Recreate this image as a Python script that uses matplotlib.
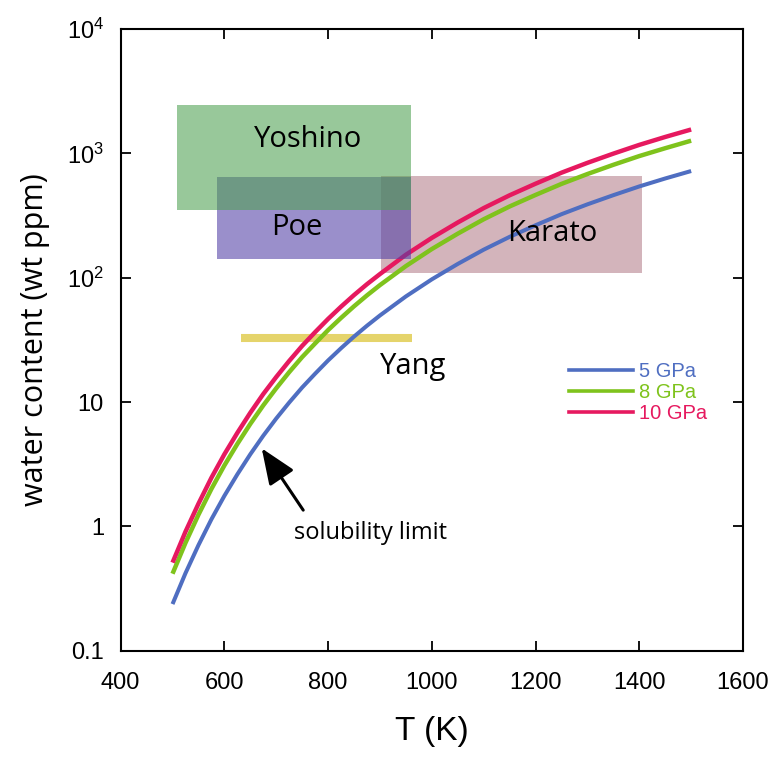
import matplotlib
matplotlib.use("Agg")
import matplotlib.pyplot as plt
from matplotlib.lines import Line2D
from matplotlib.ticker import FixedLocator, FixedFormatter, NullLocator

plt.rcParams["font.family"] = ["Liberation Sans", "DejaVu Sans"]
plt.rcParams["mathtext.fontset"] = "custom"
plt.rcParams["mathtext.rm"] = "Liberation Sans"
plt.rcParams["mathtext.it"] = "Liberation Sans:italic"

LABEL_FONT = ["Open Sans", "DejaVu Sans"]

# temperature grid (K) and solubility-limit curves (wt ppm)
temperature = [500, 525, 550, 575, 600, 625, 650, 675, 700, 725, 750, 775, 800,
               825, 850, 875, 900, 950, 1000, 1050, 1100, 1150, 1200, 1250,
               1300, 1350, 1400, 1450, 1500]
water_5gpa = [0.237, 0.420, 0.706, 1.14, 1.76, 2.62, 3.80, 5.36, 7.37, 9.91, 13.1,
              16.9, 21.6, 27.1, 33.6, 41.1, 49.7, 70.7, 97.0, 129, 168, 213, 264,
              324, 389, 461, 542, 628, 721]
water_8gpa = [0.416, 0.737, 1.24, 2.00, 3.09, 4.60, 6.67, 9.40, 12.9, 17.4, 23.0,
              29.6, 37.9, 47.5, 58.9, 72.1, 87.2, 124, 170, 226, 295, 374, 463,
              568, 682, 809, 951, 1100, 1265]
water_10gpa = [0.511, 0.906, 1.52, 2.46, 3.80, 5.65, 8.20, 11.6, 15.9, 21.4, 28.3,
               36.5, 46.6, 58.5, 72.5, 88.7, 107, 153, 209, 278, 363, 460, 570,
               699, 839, 995, 1170, 1355, 1556]

series_labels = ["5 GPa", "8 GPa", "10 GPa"]
series_colors = ["#4f6ec1", "#7fc31c", "#e6195f"]

# experimental ranges: (T_min, T_max, water_min, water_max)
yoshino_box = (509, 960, 350, 2450)
poe_box = (586, 960, 142, 648)
karato_box = (902, 1405, 109, 660)
yang_line = (632, 962, 33)

x_ticks = [400, 600, 800, 1000, 1200, 1400, 1600]
y_ticks = [0.1, 1, 10, 100, 1000, 10000]
y_tick_labels = ["0.1", "1", "10", "$10^2$", "$10^3$", "$10^4$"]

fig = plt.figure(figsize=(7.73, 7.58), dpi=100)
ax = fig.add_axes([0.1561, 0.1416, 0.8051, 0.8201])
ax.set_yscale("log")
ax.set_xlim(400, 1600)
ax.set_ylim(0.1, 1e4)

# boxes under / over the curves
ax.fill_between([karato_box[0], karato_box[1]], karato_box[2], karato_box[3],
                color="#b47f8c", alpha=0.585, lw=0, zorder=1)

curves = [water_5gpa, water_8gpa, water_10gpa]
widths = [2.9, 3.2, 3.2]
for vals, col, lw in zip(curves, series_colors, widths):
    ax.plot(temperature, vals, color=col, lw=lw, solid_capstyle="butt",
            solid_joinstyle="round", zorder=3)

ax.fill_between([poe_box[0], poe_box[1]], poe_box[2], poe_box[3],
                color="#5240a6", alpha=0.585, lw=0, zorder=4)
ax.fill_between([yoshino_box[0], yoshino_box[1]], yoshino_box[2], yoshino_box[3],
                color="#4fa152", alpha=0.585, lw=0, zorder=5)
ax.plot([yang_line[0], yang_line[1]], [yang_line[2], yang_line[2]],
        color="#e5d46b", lw=5.8, solid_capstyle="butt", zorder=2)

ax.text(761, 1300, "Yoshino", fontsize=21, family=LABEL_FONT, ha="center", va="center", zorder=6)
ax.text(740, 255, "Poe", fontsize=21, family=LABEL_FONT, ha="center", va="center", zorder=6)
ax.text(1233, 228, "Karato", fontsize=21, family=LABEL_FONT, ha="center", va="center", zorder=6)
ax.text(964, 19.4, "Yang", fontsize=21, family=LABEL_FONT, ha="center", va="center", zorder=6)
ax.text(881, 0.88, "solubility limit", fontsize=17, family=LABEL_FONT,
        ha="center", va="center", zorder=6)

ax.annotate("", xy=(672, 4.24), xytext=(752, 1.35),
            arrowprops=dict(arrowstyle="-|>,head_length=1.1,head_width=0.45",
                            mutation_scale=20, lw=2.2, color="k",
                            shrinkA=0, shrinkB=0),
            zorder=6)

handles = [Line2D([], [], color=c, lw=2.6) for c in series_colors]
leg = ax.legend(handles, series_labels, loc="upper left",
                bbox_to_anchor=(0.7204, 0.465), frameon=False,
                fontsize=14.5, handlelength=3.2, handletextpad=0.3,
                labelspacing=0.1, borderpad=0, borderaxespad=0)
for txt, c in zip(leg.get_texts(), series_colors):
    txt.set_color(c)

ax.xaxis.set_major_locator(FixedLocator(x_ticks))
ax.yaxis.set_major_locator(FixedLocator(y_ticks))
ax.yaxis.set_major_formatter(FixedFormatter(y_tick_labels))
ax.yaxis.set_minor_locator(NullLocator())
ax.tick_params(which="major", direction="in", length=7.5, width=1.3,
               top=True, right=True, labelsize=17)
ax.tick_params(axis="x", pad=15)
ax.tick_params(axis="y", pad=12)
for sp in ax.spines.values():
    sp.set_linewidth(1.5)

ax.set_xlabel("T (K)", fontsize=24, labelpad=16)
ax.set_ylabel("water content (wt ppm)", fontsize=22, family=LABEL_FONT, labelpad=12)

fig.savefig("out.png", dpi=100)
